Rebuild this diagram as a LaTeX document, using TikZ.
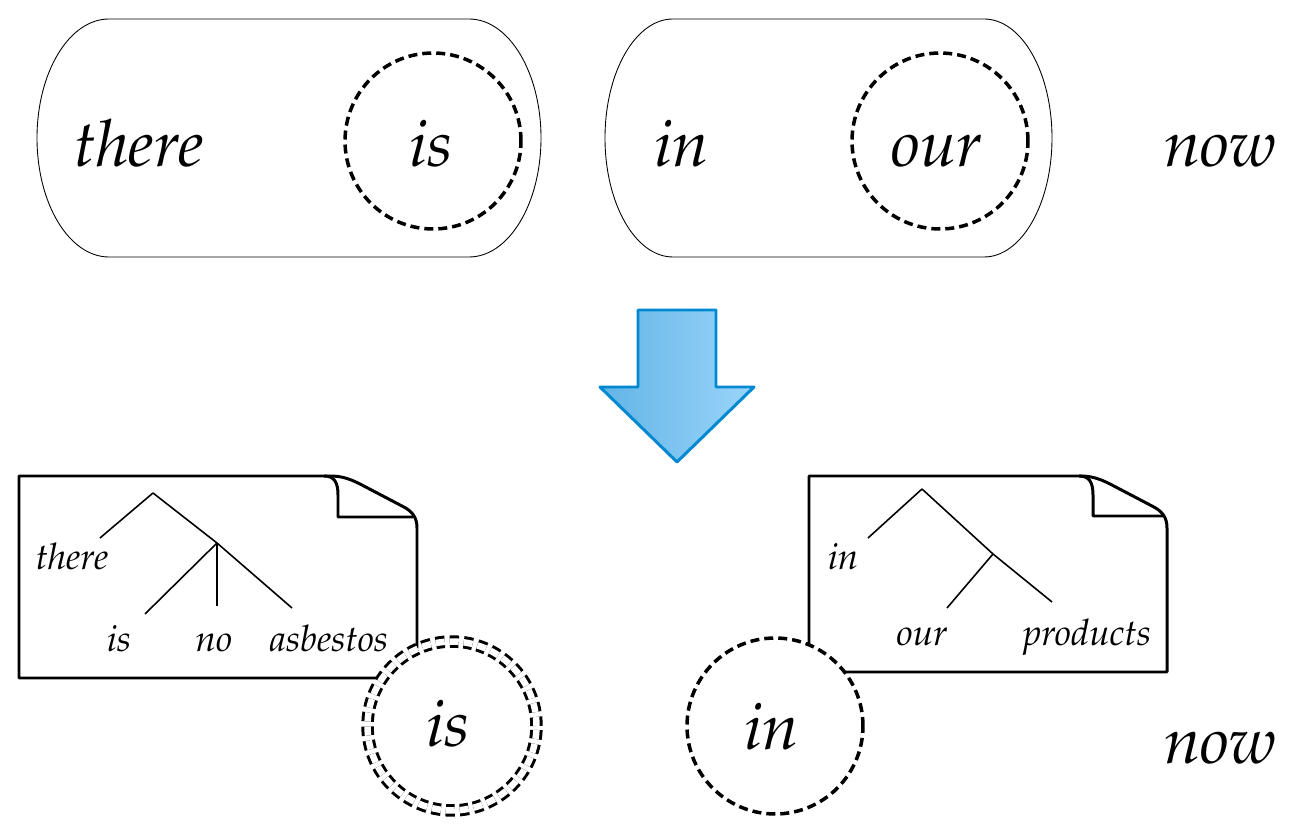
\documentclass[tikz,border=0pt]{standalone}
\usepackage[T1]{fontenc}
\usepackage{mathpazo}
\usepackage{xcolor}
\usepackage{tikz}
\definecolor{arrowedge}{RGB}{0, 136, 209}
\definecolor{arrowleft}{RGB}{98, 180, 230}
\definecolor{arrowright}{RGB}{155, 213, 250}
\usetikzlibrary{shapes, arrows, positioning, calc}

\begin{document}
\begin{tikzpicture}[
    x=0.02cm, y=0.02cm,
    capsule/.style={draw, line width=0.5pt},
    slot/.style={circle, draw, fill=white, line width=2pt, dash pattern=on 0.18cm off 0.1cm, minimum size=3.52cm, inner sep=0pt},
    twoslot/.style={circle, draw, fill=white, double, double distance=0.13cm, line width=1.7pt, dash pattern=on 0.18cm off 0.1cm, minimum size=3.38cm, inner sep=0pt},
    bigword/.style={anchor=base, inner sep=0pt, font=\fontsize{37}{44}\selectfont\itshape},
    smallword/.style={anchor=base, inner sep=0pt, font=\fontsize{20.8}{25}\selectfont\itshape},
    doc/.style={draw, line width=1.7pt, line join=round},
    branch/.style={draw, line width=0.9pt},
    bigarrow/.style={draw=arrowedge, line width=1.7pt, line join=round, left color=arrowleft, right color=arrowright}
]
    \useasboundingbox (0,0) rectangle (1306,-830);

    % input: two chunks and a free word
    \draw[capsule] (109,-19) -- (469,-19) arc[start angle=90, end angle=-90, x radius=72, y radius=119]
        -- (109,-257) arc[start angle=270, end angle=90, x radius=72, y radius=119] -- cycle;
    \draw[capsule] (673,-19) -- (984,-19) arc[start angle=90, end angle=-90, x radius=68, y radius=119]
        -- (673,-257) arc[start angle=270, end angle=90, x radius=68, y radius=119] -- cycle;

    \node[slot] (h1) at (433,-141) {};
    \node[slot] (h2) at (940,-141) {};

    \node[bigword] (w1) at (139,-167) {there};
    \node[bigword] (w2) at (431,-167) {is};
    \node[bigword] (w3) at (682,-167) {in};
    \node[bigword] (w4) at (937,-167) {our};
    \node[bigword] (w5) at (1220,-167) {now};

    % step arrow
    \draw[bigarrow] (638,-310) -- (716,-310) -- (716,-387) -- (754,-387) -- (677,-462)
        -- (600,-387) -- (638,-387) -- cycle;

    % output: fragments as small documents
    \draw[doc] (19,-678) -- (19,-476) -- (330,-476) .. controls (342,-476) and (350,-479) .. (360,-484)
        -- (402,-506) .. controls (412,-511) and (417,-517) .. (417,-528) -- (417,-678) -- cycle;
    \draw[doc] (324,-476) .. controls (334,-476) and (338,-482) .. (338,-495) -- (338,-517) -- (413,-517);

    \draw[doc] (809,-672) -- (809,-476) -- (1080,-476) .. controls (1092,-476) and (1100,-479) .. (1110,-484)
        -- (1152,-506) .. controls (1162,-511) and (1167,-517) .. (1167,-528) -- (1167,-672) -- cycle;
    \draw[doc] (1079,-476) .. controls (1089,-476) and (1093,-482) .. (1093,-495) -- (1093,-516) -- (1163,-516);

    % tree 1
    \coordinate (r1) at (153,-493);
    \coordinate (r1a) at (100,-538);
    \coordinate (m1) at (217,-543);
    \coordinate (m1a) at (145,-614);
    \coordinate (m1b) at (217,-606);
    \coordinate (m1c) at (292,-608);
    \draw[branch] (r1) -- (r1a);
    \draw[branch] (r1) -- (m1) -- (m1c);
    \draw[branch] (m1) -- (m1a);
    \draw[branch] (m1) -- (m1b);
    \node[smallword] (t1) at (72,-570) {there};
    \node[smallword] (t2) at (119,-652) {is};
    \node[smallword] (t3) at (214,-652) {no};
    \node[smallword] (t4) at (329,-652) {asbestos};

    % tree 2
    \coordinate (r2) at (922,-489);
    \coordinate (r2a) at (868,-538);
    \coordinate (m2) at (993,-554);
    \coordinate (m2a) at (947,-608);
    \coordinate (m2b) at (1052,-602);
    \draw[branch] (r2) -- (r2a);
    \draw[branch] (r2) -- (m2) -- (m2b);
    \draw[branch] (m2) -- (m2a);
    \node[smallword] (u1) at (843,-570) {in};
    \node[smallword] (u2) at (922,-646) {our};
    \node[smallword] (u3) at (1087,-646) {products};

    % heads on top of the documents
    \node[twoslot] (g1) at (452,-726) {};
    \node[slot] (g2) at (775,-726) {};
    \node[bigword] (v1) at (448,-747) {is};
    \node[bigword] (v2) at (772,-750) {in};
    \node[bigword] (v3) at (1220,-764) {now};
\end{tikzpicture}
\end{document}
